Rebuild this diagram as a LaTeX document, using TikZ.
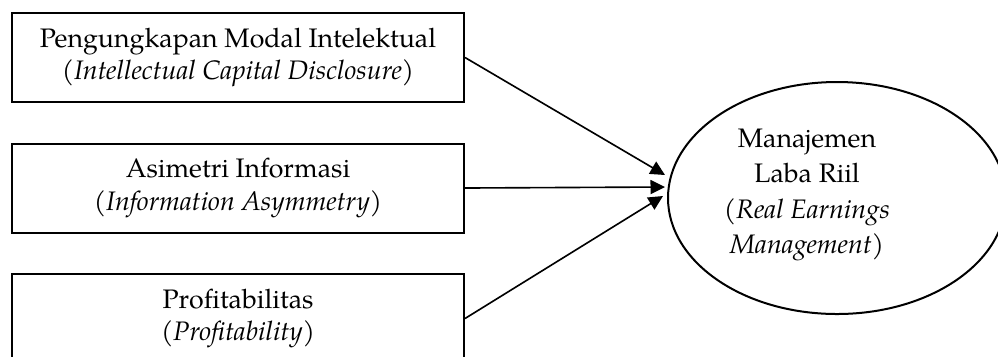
\documentclass[tikz,border=0pt]{standalone}
\usepackage{fontspec}
\setmainfont{TeX Gyre Pagella}
\usetikzlibrary{arrows.meta,shapes.geometric}
\tikzset{
  varbox/.style={draw, line width=0.8pt, rectangle, minimum width=180.8pt, minimum height=35.6pt, inner sep=0pt, align=center, font=\fontsize{10.7}{12.9}\selectfont},
  depell/.style={draw, line width=0.8pt, ellipse, minimum width=135.2pt, minimum height=92.8pt, inner sep=0pt},
  deptext/.style={align=center, inner sep=0pt, font=\fontsize{10.7}{14.1}\selectfont},
  link/.style={line width=0.65pt, -{Triangle[length=5.8pt,width=5.6pt]}}
}
\begin{document}
\begin{tikzpicture}[x=0.4pt,y=-0.4pt]
\useasboundingbox (0,0) rectangle (998,356);
\clip (0,0) rectangle (998,356);
\node[varbox] (b1) at (238,57.5) {Pengungkapan Modal Intelektual\\(\textit{Intellectual Capital Disclosure)}};
\node[varbox] (b2) at (238,188) {Asimetri Informasi\\(\textit{Information Asymmetry})};
\node[varbox] (b3) at (238,318.5) {Profitabilitas\\\textit{(Profitability})};
\node[depell] (e) at (837,198) {};
\node[deptext] (et) at (807,195) {Manajemen\\Laba Riil\\(\textit{Real Earnings}\\\textit{Management)}};
\coordinate (t1) at (665,175);
\coordinate (t2) at (665,187);
\coordinate (t3) at (663,196);
\draw[link] (b1.east) -- (t1);
\draw[link] (b2.east) -- (t2);
\draw[link] (b3.east) -- (t3);
\end{tikzpicture}
\end{document}
